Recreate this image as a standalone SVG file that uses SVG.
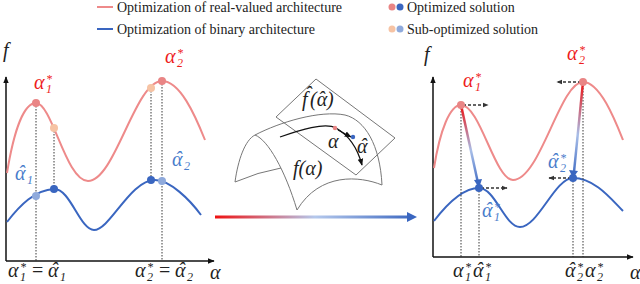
<svg xmlns="http://www.w3.org/2000/svg" width="640" height="284" viewBox="0 0 640 284">
<style>
text{font-family:"Liberation Serif","DejaVu Serif",serif}
.leg{font-size:14px;fill:#222}
.m{font-style:italic;font-size:20px;fill:#222}
.s{font-size:12px}
.up{font-style:normal}
.red{fill:#EE1C1C}
.blu{fill:#4A7CCB}
.ax{stroke:#111;stroke-width:1.5;fill:none}
.rc{stroke:#EE8A8A;stroke-width:2;fill:none}
.bc{stroke:#3A66C0;stroke-width:2;fill:none}
.dot{stroke:#222;stroke-width:0.9;stroke-dasharray:1.5,1.5;fill:none}
.dash{stroke:#333;stroke-width:1.5;stroke-dasharray:3,2;fill:none}
.surf{stroke:#777;stroke-width:1;fill:none}
</style>
<defs>
<marker id="ah" viewBox="0 0 10 10" refX="9" refY="5" markerWidth="7" markerHeight="7" orient="auto" markerUnits="userSpaceOnUse"><path d="M0,1 L10,5 L0,9 z" fill="#111"/></marker>
<marker id="ahd" viewBox="0 0 10 10" refX="9" refY="5" markerWidth="6" markerHeight="6" orient="auto" markerUnits="userSpaceOnUse"><path d="M0,1 L10,5 L0,9 z" fill="#333"/></marker>
<linearGradient id="gmid" gradientUnits="userSpaceOnUse" x1="215" y1="0" x2="415" y2="0">
<stop offset="0" stop-color="#EE1111"/><stop offset="0.5" stop-color="#B4C8EC"/><stop offset="1" stop-color="#3A66C0"/></linearGradient>
<linearGradient id="g1" gradientUnits="userSpaceOnUse" x1="461" y1="105" x2="479" y2="188">
<stop offset="0" stop-color="#EE1111"/><stop offset="0.55" stop-color="#A8BEE8"/><stop offset="1" stop-color="#3A66C0"/></linearGradient>
<linearGradient id="g2" gradientUnits="userSpaceOnUse" x1="583" y1="82" x2="573" y2="178">
<stop offset="0" stop-color="#EE1111"/><stop offset="0.55" stop-color="#A8BEE8"/><stop offset="1" stop-color="#3A66C0"/></linearGradient>
</defs>

<g id="legend">
<line x1="97" y1="7" x2="113" y2="7" stroke="#EE8A8A" stroke-width="2"/>
<text class="leg" x="117" y="12">Optimization of real-valued architecture</text>
<line x1="97" y1="29" x2="113" y2="29" stroke="#3A66C0" stroke-width="2"/>
<text class="leg" x="117" y="34">Optimization of binary architecture</text>
<circle cx="392" cy="7" r="3.5" fill="#E98585"/><circle cx="400" cy="7" r="3.5" fill="#3A66C0"/>
<text class="leg" x="407" y="12">Optimized solution</text>
<circle cx="392" cy="29" r="3.5" fill="#F6C3A4"/><circle cx="400" cy="29" r="3.5" fill="#8FAADC"/>
<text class="leg" x="407" y="34">Sub-optimized solution</text>
</g>

<g id="left-panel">
<path class="ax" d="M6,261 V77" marker-end="url(#ah)"/>
<path class="ax" d="M6,261 H214" marker-end="url(#ah)"/>
<text class="m" x="3" y="57">f</text>
<path class="rc" d="M7,173 C14,130 24,103 36,103 C52,103 66,181 88,181 C115,181 135,81 162,81 C180,81 195,115 205,140"/>
<path class="bc" d="M7,222 C20,205 35,190 54,189 C70,188 80,230 94,230 C110,230 130,180 155,180 C170,180 190,200 201,215"/>
<path class="dot" d="M36,103 V261 M54,128 V189 M151,88 V180 M162,81 V261"/>
<circle cx="36" cy="103" r="4" fill="#E98585"/>
<circle cx="54" cy="128" r="4" fill="#F6C3A4"/>
<circle cx="151" cy="88" r="4" fill="#F6C3A4"/>
<circle cx="162" cy="81" r="4" fill="#E98585"/>
<circle cx="36" cy="196" r="4" fill="#8FAADC"/>
<circle cx="54" cy="189" r="4" fill="#3A66C0"/>
<circle cx="151" cy="180" r="4" fill="#3A66C0"/>
<circle cx="162" cy="181" r="4" fill="#8FAADC"/>
<text class="m red" x="34" y="89">α<tspan class="s" x="46" y="83">*</tspan><tspan class="s" x="46" y="93">1</tspan></text>
<text class="m red" x="165" y="63">α<tspan class="s" x="177" y="57">*</tspan><tspan class="s" x="177" y="67">2</tspan></text>
<text class="m blu" x="15" y="180">α<tspan x="18">ˆ</tspan><tspan class="s" x="27" y="184">1</tspan></text>
<text class="m blu" x="172" y="166">α<tspan x="175">ˆ</tspan><tspan class="s" x="184" y="170">2</tspan></text>
<text class="m" x="8" y="277">α<tspan class="s" x="20" y="271">*</tspan><tspan class="s" x="20" y="281">1</tspan><tspan class="up" x="32" y="277">=</tspan><tspan x="48">α</tspan><tspan x="51">ˆ</tspan><tspan class="s" x="60" y="281">1</tspan></text>
<text class="m" x="135" y="277">α<tspan class="s" x="147" y="271">*</tspan><tspan class="s" x="147" y="281">2</tspan><tspan class="up" x="159" y="277">=</tspan><tspan x="175">α</tspan><tspan x="178">ˆ</tspan><tspan class="s" x="187" y="281">2</tspan></text>
<text class="m" x="210" y="279">α</text>
</g>

<g id="surface">
<path class="surf" d="M235,182 C238,160 245,140 255,135 C280,122 320,110 345,115 C365,120 380,145 382,185 C360,176 320,172 297,210 C285,170 268,140 255,135"/>
<path class="surf" d="M235,182 Q258,172 281,168"/>
<path class="surf" d="M316,79 L395,138 L356,175 L276,117 Z"/>
<path d="M280,137 C300,130 325,122 336,128 C350,136 358,150 362,165" stroke="#111" stroke-width="1.3" fill="none" marker-end="url(#ah)"/>
<path d="M338,130 L351,137" stroke="#111" stroke-width="1.3" fill="none" marker-end="url(#ah)"/>
<circle cx="335" cy="128" r="2.2" fill="#E98585"/>
<circle cx="353" cy="137" r="2.2" fill="#3A66C0"/>
<text class="m" x="328" y="148" font-size="18">α</text>
<text class="m" x="357" y="153" font-size="18">α<tspan x="360">ˆ</tspan></text>
<text class="m" x="302" y="106" font-size="18">f<tspan x="305" y="101">ˆ</tspan><tspan x="310" y="106">(α</tspan><tspan x="318">ˆ</tspan><tspan x="327">)</tspan></text>
<text class="m" x="293" y="175" font-size="18">f(α)</text>
</g>

<g id="connectors">
<line x1="215" y1="217" x2="410" y2="217" stroke="url(#gmid)" stroke-width="3"/>
<path d="M407,212 L417,217 L407,222 z" fill="#3A66C0"/>
</g>

<g id="right-panel">
<path class="ax" d="M433,257 V77" marker-end="url(#ah)"/>
<path class="ax" d="M433,257 H633" marker-end="url(#ah)"/>
<text class="m" x="424" y="61">f</text>
<path class="rc" d="M434,168 C440,130 450,105 461,105 C480,105 495,180 513,180 C540,180 560,82 583,82 C600,82 615,120 623,140"/>
<path class="bc" d="M434,221 C450,200 465,188 479,188 C495,188 505,227 520,227 C538,227 555,178 573,178 C595,178 612,200 623,211"/>
<path class="dot" d="M461,105 V257 M479,188 V257 M573,178 V257 M583,82 V257"/>
<line x1="461" y1="105" x2="478" y2="183" stroke="url(#g1)" stroke-width="2.5"/>
<path d="M474,180 L479,188 L482,179 z" fill="#3A66C0"/>
<line x1="583" y1="82" x2="574" y2="172" stroke="url(#g2)" stroke-width="2.5"/>
<path d="M569,170 L573,178 L578,171 z" fill="#3A66C0"/>
<path class="dash" d="M463,105 H488" marker-end="url(#ahd)"/>
<path class="dash" d="M481,188 H507" marker-end="url(#ahd)"/>
<path class="dash" d="M581,82 H557" marker-end="url(#ahd)"/>
<path class="dash" d="M571,178 H549" marker-end="url(#ahd)"/>
<circle cx="461" cy="105" r="4" fill="#E98585"/>
<circle cx="583" cy="82" r="4" fill="#E98585"/>
<circle cx="479" cy="188" r="4" fill="#3A66C0"/>
<circle cx="573" cy="178" r="4" fill="#3A66C0"/>
<text class="m red" x="463" y="87">α<tspan class="s" x="475" y="81">*</tspan><tspan class="s" x="475" y="91">1</tspan></text>
<text class="m red" x="567" y="60">α<tspan class="s" x="579" y="54">*</tspan><tspan class="s" x="579" y="64">2</tspan></text>
<text class="m blu" x="548" y="168">α<tspan x="551">ˆ</tspan><tspan class="s" x="560" y="162">*</tspan><tspan class="s" x="560" y="172">2</tspan></text>
<text class="m blu" x="482" y="217">α<tspan x="485">ˆ</tspan><tspan class="s" x="494" y="211">*</tspan><tspan class="s" x="494" y="221">1</tspan></text>
<text class="m" x="453" y="277">α<tspan class="s" x="465" y="271">*</tspan><tspan class="s" x="465" y="281">1</tspan><tspan x="473" y="277">α</tspan><tspan x="476">ˆ</tspan><tspan class="s" x="485" y="271">*</tspan><tspan class="s" x="485" y="281">1</tspan></text>
<text class="m" x="565" y="277">α<tspan x="568">ˆ</tspan><tspan class="s" x="577" y="271">*</tspan><tspan class="s" x="577" y="281">2</tspan><tspan x="585" y="277">α</tspan><tspan class="s" x="597" y="271">*</tspan><tspan class="s" x="597" y="281">2</tspan></text>
<text class="m" x="630" y="279">α</text>
</g>
</svg>
